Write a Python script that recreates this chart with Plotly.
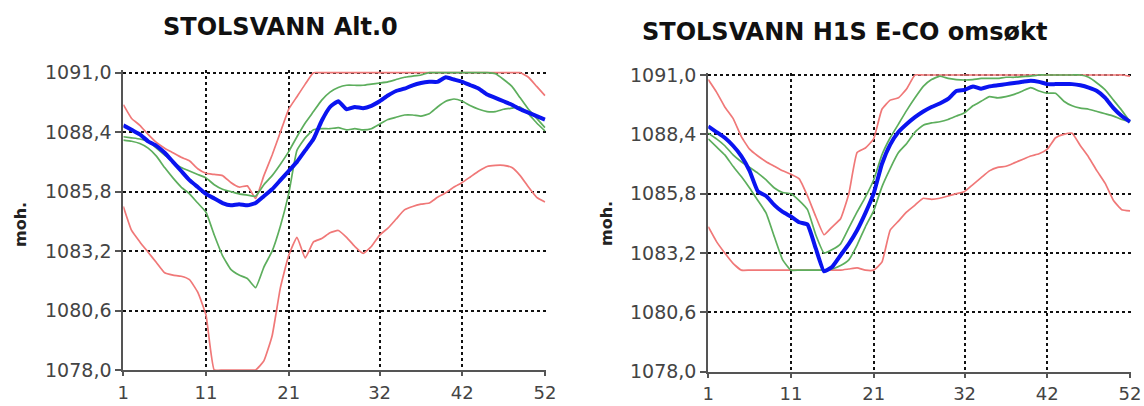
import plotly.graph_objects as go

weeks = list(range(1, 53))
x_tick_vals = [1, 11, 21, 32, 42, 52]
x_tick_text = ["1", "11", "21", "32", "42", "52"]
y_tick_vals = [1078.0, 1080.6, 1083.2, 1085.8, 1088.4, 1091.0]
y_tick_text = ["1078,0", "1080,6", "1083,2", "1085,8", "1088,4", "1091,0"]

title_left = "STOLSVANN Alt.0"
title_right = "STOLSVANN H1S E-CO omsøkt"
y_label = "moh."

# ---- Left chart: STOLSVANN Alt.0 ----
left_median = [1088.7, 1088.5, 1088.3, 1088.0, 1087.8, 1087.5, 1087.1, 1086.7, 1086.3, 1086.0,
               1085.7, 1085.5, 1085.3, 1085.2, 1085.25, 1085.2, 1085.3, 1085.6, 1085.9, 1086.3,
               1086.7, 1087.1, 1087.6, 1088.1, 1088.9, 1089.5, 1089.75, 1089.4, 1089.5, 1089.45,
               1089.55, 1089.75, 1090.0, 1090.2, 1090.3, 1090.45, 1090.55, 1090.6, 1090.6, 1090.8,
               1090.7, 1090.6, 1090.45, 1090.3, 1090.05, 1089.9, 1089.75, 1089.6, 1089.4, 1089.25,
               1089.1, 1088.95]
left_green_hi = [1088.2, 1088.15, 1088.1, 1088.0, 1087.7, 1087.4, 1087.1, 1086.85, 1086.7, 1086.55,
                 1086.4, 1086.1, 1085.9, 1085.8, 1085.7, 1085.65, 1085.6, 1086.1, 1086.5, 1087.0,
                 1087.55, 1088.2, 1088.8, 1089.3, 1089.8, 1090.15, 1090.35, 1090.45, 1090.45, 1090.45,
                 1090.5, 1090.55, 1090.6, 1090.7, 1090.8, 1090.85, 1090.9, 1091.0, 1091.0, 1091.0,
                 1091.0, 1091.0, 1091.0, 1091.0, 1091.0, 1090.95, 1090.7, 1090.4, 1089.9, 1089.4,
                 1089.0, 1088.6]
left_green_lo = [1088.05, 1088.0, 1087.9, 1087.7, 1087.35, 1086.85, 1086.4, 1086.0, 1085.7, 1085.3,
                 1084.9, 1083.9, 1083.0, 1082.4, 1082.15, 1082.0, 1081.6, 1082.5, 1083.2, 1084.3,
                 1085.7, 1087.6, 1088.15, 1088.5, 1088.55, 1088.55, 1088.6, 1088.5, 1088.55, 1088.5,
                 1088.55, 1088.75, 1088.95, 1089.05, 1089.15, 1089.15, 1089.1, 1089.2, 1089.5, 1089.75,
                 1089.85, 1089.75, 1089.55, 1089.4, 1089.3, 1089.3, 1089.4, 1089.45, 1089.5, 1089.2,
                 1088.8, 1088.45]
left_red_hi = [1089.6, 1089.0, 1088.7, 1088.3, 1087.95, 1087.7, 1087.5, 1087.3, 1087.15, 1086.8,
               1086.6, 1086.55, 1086.5, 1086.2, 1086.0, 1086.05, 1085.5, 1086.5, 1087.4, 1088.4,
               1089.4, 1089.95, 1090.5, 1091.0, 1091.0, 1091.0, 1091.0, 1091.0, 1091.0, 1091.0,
               1091.0, 1091.0, 1091.0, 1091.0, 1091.0, 1091.0, 1091.0, 1091.0, 1091.0, 1091.0,
               1091.0, 1091.0, 1091.0, 1091.0, 1091.0, 1091.0, 1091.0, 1091.0, 1091.0, 1090.8,
               1090.4, 1090.0]
left_red_lo = [1085.15, 1084.1, 1083.6, 1083.15, 1082.7, 1082.25, 1082.15, 1082.1, 1081.95, 1081.4,
               1080.4, 1078.0, 1078.0, 1078.0, 1078.0, 1078.0, 1078.0, 1078.4, 1079.5, 1081.6,
               1083.0, 1083.8, 1082.9, 1083.6, 1083.75, 1084.0, 1084.1, 1083.8, 1083.4, 1083.1,
               1083.4, 1083.9, 1084.2, 1084.6, 1085.0, 1085.15, 1085.25, 1085.3, 1085.55, 1085.75,
               1086.0, 1086.2, 1086.45, 1086.7, 1086.9, 1086.95, 1086.95, 1086.85, 1086.5, 1086.0,
               1085.55, 1085.35]

# ---- Right chart: STOLSVANN H1S E-CO omsøkt ----
right_median = [1088.75, 1088.5, 1088.25, 1087.9, 1087.45, 1086.8, 1085.9, 1085.7, 1085.3, 1085.0,
                1084.8, 1084.55, 1084.45, 1083.4, 1082.4, 1082.6, 1083.1, 1083.6, 1084.2, 1084.95,
                1085.8, 1087.1, 1087.95, 1088.5, 1088.85, 1089.15, 1089.4, 1089.6, 1089.75, 1089.95,
                1090.3, 1090.35, 1090.5, 1090.4, 1090.5, 1090.55, 1090.6, 1090.65, 1090.7, 1090.75,
                1090.7, 1090.6, 1090.6, 1090.6, 1090.6, 1090.55, 1090.45, 1090.3, 1090.0, 1089.55,
                1089.2, 1088.95]
right_green_hi = [1088.45, 1088.2, 1087.9, 1087.5, 1087.2, 1086.95, 1086.7, 1086.4, 1086.05, 1085.85,
                  1085.8, 1085.5, 1085.1, 1084.0, 1083.2, 1083.35, 1083.6, 1084.3, 1085.0, 1085.65,
                  1086.4, 1087.5, 1088.25, 1088.85, 1089.45, 1090.0, 1090.5, 1090.8, 1090.95, 1090.85,
                  1090.8, 1090.78, 1090.8, 1090.85, 1090.85, 1090.85, 1090.9, 1090.9, 1090.93, 1090.95,
                  1091.0, 1091.0, 1091.0, 1091.0, 1091.0, 1091.0, 1090.9, 1090.65, 1090.35, 1089.9,
                  1089.45, 1088.95]
right_green_lo = [1088.2, 1087.85, 1087.5, 1087.0, 1086.55, 1086.05, 1085.5, 1084.95, 1083.9, 1082.9,
                  1082.45, 1082.45, 1082.45, 1082.45, 1082.45, 1082.5, 1082.65, 1082.9, 1083.55, 1084.35,
                  1085.05, 1086.1, 1086.9, 1087.6, 1088.0, 1088.5, 1088.8, 1088.9, 1088.95, 1089.05,
                  1089.2, 1089.35, 1089.65, 1089.85, 1090.05, 1090.0, 1090.05, 1090.15, 1090.3, 1090.45,
                  1090.3, 1090.2, 1090.2, 1089.85, 1089.65, 1089.55, 1089.5, 1089.4, 1089.3, 1089.2,
                  1089.05, 1088.95]
right_red_hi = [1090.8, 1090.25, 1089.6, 1089.1, 1088.3, 1087.75, 1087.45, 1087.2, 1087.0, 1086.8,
                1086.65, 1086.45, 1085.7, 1084.8, 1084.0, 1084.35, 1084.7, 1085.8, 1087.6, 1087.8,
                1088.2, 1089.5, 1089.9, 1090.0, 1090.4, 1091.0, 1091.0, 1091.0, 1091.0, 1091.0,
                1091.0, 1091.0, 1091.0, 1091.0, 1091.0, 1091.0, 1091.0, 1091.0, 1091.0, 1091.0,
                1091.0, 1091.0, 1091.0, 1091.0, 1091.0, 1091.0, 1091.0, 1091.0, 1091.0, 1091.0,
                1091.0, 1090.95]
right_red_lo = [1084.35, 1083.7, 1083.2, 1082.75, 1082.45, 1082.45, 1082.45, 1082.45, 1082.45, 1082.45,
                1082.45, 1082.45, 1082.45, 1082.45, 1082.45, 1082.45, 1082.45, 1082.5, 1082.55, 1082.45,
                1082.45, 1082.8, 1084.2, 1084.6, 1085.0, 1085.3, 1085.6, 1085.55, 1085.6, 1085.7,
                1085.8, 1085.9, 1086.2, 1086.5, 1086.8, 1086.95, 1087.0, 1087.15, 1087.3, 1087.45,
                1087.55, 1087.75, 1088.25, 1088.4, 1088.45, 1087.9, 1087.4, 1086.8, 1086.25, 1085.5,
                1085.1, 1085.05]

RED = "#F07878"
GREEN = "#5DAE5D"
BLUE = "#0A14F0"

fig = go.Figure()


def add_panel(xa, ya, red_hi, red_lo, green_hi, green_lo, median):
    for series, color, width in [(red_hi, RED, 1.7), (red_lo, RED, 1.7),
                                 (green_hi, GREEN, 1.7), (green_lo, GREEN, 1.7),
                                 (median, BLUE, 4)]:
        fig.add_trace(go.Scatter(x=weeks, y=series, mode="lines", xaxis=xa, yaxis=ya,
                                 line=dict(color=color, width=width, shape="spline", smoothing=0.4),
                                 showlegend=False, hoverinfo="skip"))


add_panel("x", "y", left_red_hi, left_red_lo, left_green_hi, left_green_lo, left_median)
add_panel("x2", "y2", right_red_hi, right_red_lo, right_green_hi, right_green_lo, right_median)

ytickfont = dict(family="DejaVu Sans", size=19, color="#444444")
xtickfont = dict(family="DejaVu Sans", size=18, color="#444444")
GRID = dict(showgrid=True, gridcolor="#111111", griddash="dot", gridwidth=2)


def xaxis(domain, anchor):
    return dict(domain=domain, anchor=anchor, range=[1, 52.1], tickmode="array",
                tickvals=x_tick_vals, ticktext=x_tick_text, **GRID,
                showline=True, linecolor="#555555", linewidth=2,
                ticks="outside", ticklen=4, tickwidth=2, tickcolor="#555555", tickfont=xtickfont,
                zeroline=False, ticklabelstandoff=1, automargin=False, fixedrange=True)


def yaxis(domain, anchor):
    return dict(domain=domain, anchor=anchor, range=[1078, 1091.1], tickmode="array",
                tickvals=y_tick_vals, ticktext=y_tick_text, **GRID,
                showline=True, linecolor="#555555", linewidth=2,
                ticks="outside", ticklen=6, tickwidth=2, tickcolor="#555555", tickfont=ytickfont,
                zeroline=False, automargin=False, fixedrange=True)


fig.update_layout(
    width=1144, height=406,
    margin=dict(l=0, r=0, t=0, b=0, autoexpand=False),
    paper_bgcolor="white", plot_bgcolor="white",
    showlegend=False, hovermode=False,
    xaxis=xaxis([0.1078, 0.4771], "y"),
    yaxis=yaxis([0.0887, 0.8266], "x"),
    xaxis2=xaxis([0.6191, 0.9885], "y2"),
    yaxis2=yaxis([0.0845, 0.8209], "x2"),
    annotations=[
        dict(text=title_left, x=0.2456, y=0.9323, xref="paper", yref="paper", showarrow=False,
             xanchor="center", yanchor="middle",
             font=dict(family="DejaVu Sans", size=24, color="#111111", weight="bold")),
        dict(text=title_right, x=0.7386, y=0.9212, xref="paper", yref="paper", showarrow=False,
             xanchor="center", yanchor="middle",
             font=dict(family="DejaVu Sans", size=24, color="#111111", weight="bold")),
        dict(text=y_label, x=0.0175, y=0.4458, xref="paper", yref="paper", showarrow=False,
             textangle=-90, xanchor="center", yanchor="middle",
             font=dict(family="DejaVu Sans", size=16, color="#222222", weight="bold")),
        dict(text=y_label, x=0.5306, y=0.4483, xref="paper", yref="paper", showarrow=False,
             textangle=-90, xanchor="center", yanchor="middle",
             font=dict(family="DejaVu Sans", size=16, color="#222222", weight="bold")),
    ],
)

fig.write_html("out.html", config={"displayModeBar": False, "staticPlot": True},
               post_script="document.body.style.margin='0';")
